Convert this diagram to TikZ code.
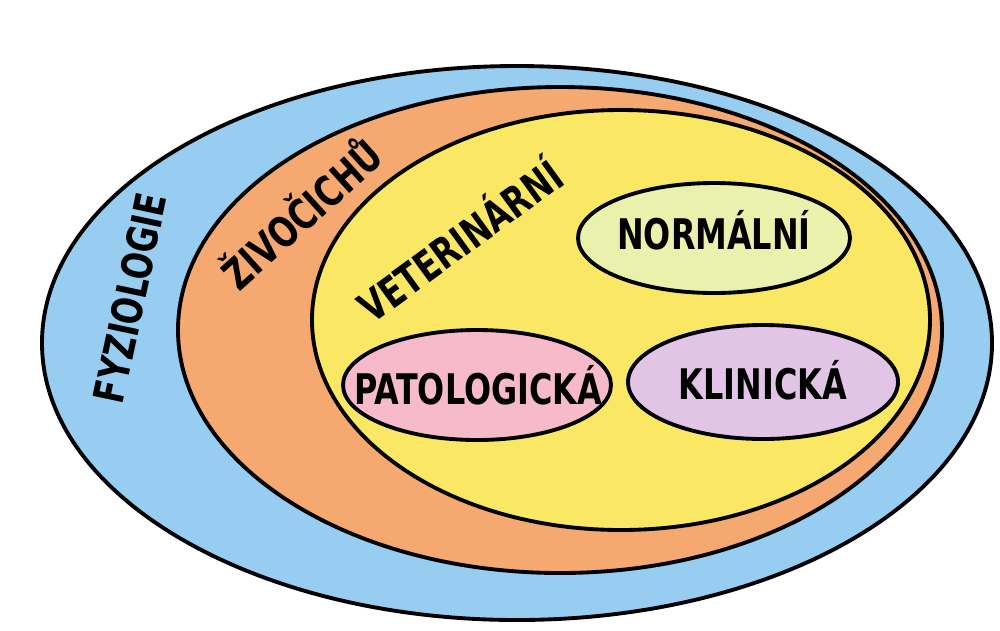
\documentclass[tikz,border=0pt]{standalone}
\usepackage{fontspec}
\setmainfont{DejaVu Sans Condensed}
\definecolor{fzblue}{RGB}{150,205,240}
\definecolor{fzorange}{RGB}{245,168,112}
\definecolor{fzyellow}{RGB}{250,232,100}
\definecolor{fzgreen}{RGB}{233,241,172}
\definecolor{fzpink}{RGB}{246,186,202}
\definecolor{fzlilac}{RGB}{226,196,230}
\begin{document}
\begin{tikzpicture}[
  x=0.02cm, y=-0.02cm,
  ring/.style={draw=black, line width=2.2pt},
  label/.style={font=\bfseries\fontsize{24}{24}\selectfont, inner sep=0pt, xscale=0.84}
]
\useasboundingbox (0,0) rectangle (1000,630);

% Nested rings
\filldraw[ring, fill=fzblue] (517,343) ellipse [x radius=475, y radius=277];
\filldraw[ring, fill=fzorange] (560,330) ellipse [x radius=382, y radius=243];
\filldraw[ring, fill=fzyellow] (621,320) ellipse [x radius=309, y radius=210];

% Ring labels
\node[rotate=78, label] (fyz) at (130,298) {FYZIOLOGIE};
\node[rotate=42, label] (ziv) at (300,212) {ŽIVOČICHŮ};
\node[rotate=36, label] (vet) at (458,238) {VETERINÁRNÍ};

% Inner fields
\filldraw[ring, fill=fzgreen] (714,238) ellipse [x radius=136, y radius=55];
\filldraw[ring, fill=fzpink] (477,385) ellipse [x radius=134, y radius=55];
\filldraw[ring, fill=fzlilac] (763,382) ellipse [x radius=135, y radius=57];
\node[label] (norm) at (714,230) {NORMÁLNÍ};
\node[label] (pat) at (478,385) {PATOLOGICKÁ};
\node[label] (klin) at (763,380) {KLINICKÁ};
\end{tikzpicture}
\end{document}
